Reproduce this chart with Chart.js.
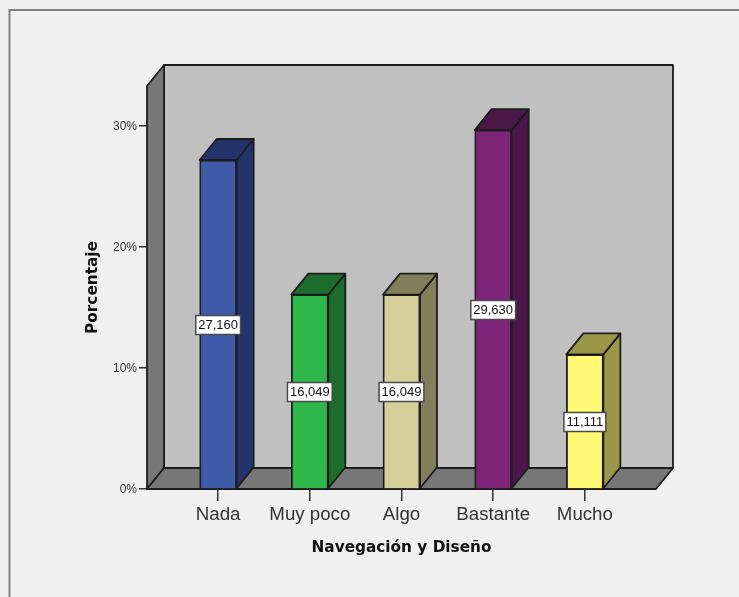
<!DOCTYPE html>
<html>
<head>
<meta charset="utf-8">
<style>
    html, body { margin: 0; padding: 0; background: #f0f0f0; }
    canvas { display: block; }
</style>
<script src="https://cdn.jsdelivr.net/npm/chart.js@4"></script>
</head>
<body>
<canvas id="barChart" width="739" height="597"></canvas>
<script>
const categories = ['Nada', 'Muy poco', 'Algo', 'Bastante', 'Mucho'];
const percentages = [27.160, 16.049, 16.049, 29.630, 11.111];
const frontColors = ['#3f5aa9', '#2fb84c', '#d5d09a', '#7c2578', '#fff976'];
const sideColors = ['#24336b', '#1c6c2e', '#817e5c', '#4a1748', '#9b9748'];
const yTicks = [0, 10, 20, 30];

const DEPTH_X = 17;
const DEPTH_Y = 21;
const LINE = '#1c1c1c';

function poly(ctx, points, fill) {
    ctx.beginPath();
    points.forEach((p, i) => i ? ctx.lineTo(p[0], p[1]) : ctx.moveTo(p[0], p[1]));
    ctx.closePath();
    ctx.fillStyle = fill;
    ctx.fill();
    ctx.stroke();
}

// walls of the box and the top/side faces of each bar
const box3d = {
    id: 'box3d',
    beforeDraw(chart) {
        const ctx = chart.ctx;
        ctx.save();
        ctx.strokeStyle = '#808080';
        ctx.lineWidth = 2;
        ctx.beginPath();
        ctx.moveTo(9.5, 597);
        ctx.lineTo(9.5, 10);
        ctx.lineTo(739, 10);
        ctx.stroke();
        ctx.restore();
    },
    beforeDatasetsDraw(chart) {
        const ctx = chart.ctx;
        const { left, right, top, bottom } = chart.chartArea;
        const dx = DEPTH_X, dy = DEPTH_Y;
        ctx.save();
        ctx.strokeStyle = LINE;
        ctx.lineWidth = 1.8;
        ctx.lineJoin = 'round';
        poly(ctx, [[left + dx, top - dy], [right + dx, top - dy], [right + dx, bottom - dy], [left + dx, bottom - dy]], '#c0c0c0');
        poly(ctx, [[left, top], [left + dx, top - dy], [left + dx, bottom - dy], [left, bottom]], '#777777');
        poly(ctx, [[left, bottom], [left + dx, bottom - dy], [right + dx, bottom - dy], [right, bottom]], '#777777');

        chart.getDatasetMeta(0).data.forEach((bar, i) => {
            const { x, y, base, width } = bar.getProps(['x', 'y', 'base', 'width']);
            const l = x - width / 2, r = x + width / 2;
            poly(ctx, [[r, y], [r + dx, y - dy], [r + dx, base - dy], [r, base]], sideColors[i]);
            poly(ctx, [[l, y], [l + dx, y - dy], [r + dx, y - dy], [r, y]], sideColors[i]);
        });
        ctx.restore();
    },
    afterDatasetsDraw(chart) {
        const ctx = chart.ctx;
        ctx.save();
        ctx.font = '13px "Liberation Sans", Arial, sans-serif';
        ctx.textAlign = 'center';
        ctx.textBaseline = 'middle';
        chart.getDatasetMeta(0).data.forEach((bar, i) => {
            const { x, y, base } = bar.getProps(['x', 'y', 'base']);
            const text = percentages[i].toFixed(3).replace('.', ',');
            const w = ctx.measureText(text).width + 5;
            const cy = Math.round((y + base) / 2 + 0.7);
            ctx.fillStyle = '#ffffff';
            ctx.strokeStyle = '#4a4a4a';
            ctx.lineWidth = 1.5;
            ctx.fillRect(x - w / 2, cy - 9.5, w, 19);
            ctx.strokeRect(x - w / 2, cy - 9.5, w, 19);
            ctx.fillStyle = '#111111';
            ctx.fillText(text, x, cy + 0.5);
        });
        ctx.restore();
    }
};

new Chart(document.getElementById('barChart').getContext('2d'), {
    type: 'bar',
    data: {
        datasets: [{
            data: percentages.map((v, i) => ({ x: i, y: v })),
            backgroundColor: frontColors,
            borderColor: LINE,
            borderWidth: 1.8,
            barThickness: 37,
            clip: false
        }]
    },
    plugins: [box3d],
    options: {
        responsive: false,
        animation: false,
        events: [],
        layout: { padding: { left: 84, top: 86, right: 83, bottom: 40 } },
        plugins: { legend: { display: false }, tooltip: { enabled: false } },
        scales: {
            x: {
                type: 'linear',
                offset: false,
                min: -0.776,
                max: 4.776,
                afterBuildTicks: axis => { axis.ticks = categories.map((c, i) => ({ value: i })); },
                afterFit: axis => { axis.height = 68; },
                grid: { offset: false, drawOnChartArea: false, drawTicks: true, tickLength: 12, color: '#333333', lineWidth: 1.5 },
                border: { display: false },
                ticks: {
                    autoSkip: false,
                    maxRotation: 0,
                    padding: 3,
                    color: '#333333',
                    font: { family: '"Liberation Sans", Arial, sans-serif', size: 18.7 },
                    callback: value => categories[value]
                },
                title: {
                    display: true,
                    text: 'Navegación y Diseño',
                    color: '#111111',
                    padding: 0,
                    font: { family: '"DejaVu Sans", Arial, sans-serif', size: 15.3, weight: 'bold' }
                }
            },
            y: {
                min: 0,
                max: 33.27,
                afterBuildTicks: axis => { axis.ticks = yTicks.map(v => ({ value: v })); },
                afterFit: axis => { axis.width = 63; },
                grid: { drawOnChartArea: false, drawTicks: true, tickLength: 8, color: '#333333', lineWidth: 1.5 },
                border: { display: false },
                ticks: {
                    padding: 2,
                    labelOffset: 1,
                    color: '#333333',
                    font: { family: '"Liberation Sans", Arial, sans-serif', size: 12 },
                    callback: value => value + '%'
                },
                title: {
                    display: true,
                    text: 'Porcentaje',
                    color: '#111111',
                    padding: 0,
                    font: { family: '"DejaVu Sans", Arial, sans-serif', size: 15.3, weight: 'bold' }
                }
            }
        }
    }
});
</script>
</body>
</html>
